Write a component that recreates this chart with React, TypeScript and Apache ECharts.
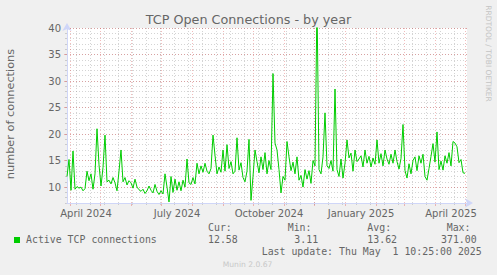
import React, { useEffect, useRef } from 'react';
import * as echarts from 'echarts';

// ---- data ----
const START_DATE = '2024-03-29';
const END_DATE = '2025-05-03';
const STEP_DAYS = 2;
const connections = [
  12, 15.2, 9.4, 16.8, 9.6, 10.1, 9.8, 10, 9.3, 9.7,
  13, 11.2, 12.5, 9.6, 12.5, 21, 14.2, 10.2, 13.7, 19.8,
  11, 11.3, 10.6, 11.8, 10.8, 9.3, 13, 17, 11, 11.8,
  10.4, 11.2, 10.8, 9.8, 11.5, 10, 9.5, 9.2, 9.6, 8.8,
  9.3, 10.2, 9.4, 8.9, 10.5, 9.2, 8.6, 9.3, 8.7, 12.5,
  10, 7.2, 12, 9, 11.5, 9.4, 11, 9.3, 11.3, 10,
  15.3, 10.8, 10.5, 11.8, 10.6, 14.5, 12.5, 14, 12.8, 14.5,
  13, 12.5, 13.5, 19.8, 16, 12.5, 13.8, 12.8, 17, 13,
  18, 13.5, 14.8, 12.5, 13, 19.3, 13.2, 14.6, 11.8, 11,
  13, 19, 7.5, 12, 17, 14.8, 12.7, 15.7, 13.3, 16.5,
  12.5, 15, 13.3, 31.4, 18.3, 17, 13.3, 8.9, 12, 11.3,
  18.6, 15.7, 13.1, 14.7, 12.5, 15.7, 11.3, 12.2, 10, 13.3,
  11.5, 13.1, 10.7, 15, 14, 45, 13.3, 12.5, 15.7, 24,
  14, 13.5, 15, 13, 28.5, 13.3, 12, 15.3, 11.7, 14.5,
  18.9, 15.5, 16.4, 13, 17, 14.8, 15.3, 15.9, 13.8, 17,
  14.5, 15.8, 13.8, 15.5, 14.3, 18.9, 14.5, 16.3, 14, 17,
  15.3, 14.3, 16.2, 14.5, 17, 14.8, 13.4, 15.4, 21.8, 13.1,
  11.7, 14.4, 12.5, 15, 15.7, 13.1, 15.9, 14.5, 16.2, 12,
  11.3, 13.5, 15.8, 18.2, 14.7, 20.4, 13.3, 14.9, 13.2, 15.9,
  14.5, 16.5, 14, 18.6, 18.3, 17.6, 14.6, 15.2, 12.7, 12.6,
];
const xLabelTexts = ['April 2024', 'July 2024', 'October 2024', 'January 2025', 'April 2025'];
const xLabelDates = ['2024-04-17', '2024-07-17', '2024-10-17', '2025-01-17', '2025-04-17'];
const MINOR_GRID_START = '2024-04-07';
const MINOR_GRID_STEP_DAYS = 14;
const yMajorTicks = [10, 15, 20, 25, 30, 35, 40];
const Y_MIN = 7;
const Y_MAX = 40;
const Y_MINOR_INTERVAL = 1;

const titleText = 'TCP Open Connections - by year';
const yAxisTitle = 'number of connections';
const sideText = 'RRDTOOL / TOBI OETIKER';
const legendName = 'Active TCP connections';
const statLabels = ['Cur:', 'Min:', 'Avg:', 'Max:'];
const statValues = ['12.58', '3.11', '13.62', '371.00'];
const lastUpdateText = 'Last update: Thu May  1 10:25:00 2025';
const versionText = 'Munin 2.0.67';

// ---- helpers ----
const DAY_MS = 86400000;
const t0 = Date.parse(START_DATE + 'T00:00:00Z');
const dayOf = (s: string) => (Date.parse(s + 'T00:00:00Z') - t0) / DAY_MS;
const totalDays = dayOf(END_DATE);

const monthStartDays: number[] = [];
{
  let y = 2024;
  let m = 3;
  while (true) {
    const d = (Date.UTC(y, m, 1) - t0) / DAY_MS;
    if (d > totalDays) break;
    if (d >= 0) monthStartDays.push(d);
    m++;
    if (m > 11) { m = 0; y++; }
  }
}
const minorDays: number[] = [];
for (let d = dayOf(MINOR_GRID_START); d <= totalDays; d += MINOR_GRID_STEP_DAYS) minorDays.push(d);
const labelDays = xLabelDates.map(dayOf);
const labelMap = new Map<number, string>();
labelDays.forEach((d, i) => labelMap.set(Math.round(d), xLabelTexts[i]));

const seriesData = connections.map((v, i) => [i * STEP_DAYS, v]);

const AXIS_COLOR = '#CFD6F8';
const FONT_COLOR = '#666666';
const MAJOR_COLOR = 'rgba(222,79,79,0.38)';
const MINOR_COLOR = 'rgba(143,143,143,0.38)';
const SANS = '"DejaVu Sans"';
const MONO = '"DejaVu Sans Mono"';

export default function App() {
  const ref = useRef<HTMLDivElement>(null);
  useEffect(() => {
    if (!ref.current) return;
    const chart = echarts.init(ref.current, undefined, { renderer: 'svg' });
    const hiddenX = { min: 0, max: totalDays, type: 'value', position: 'bottom', axisLine: { show: false }, axisLabel: { show: false } };
    const hiddenY = { min: Y_MIN, max: Y_MAX, type: 'value', position: 'left', axisLine: { show: false }, axisLabel: { show: false } };
    const monoText = (text: string, x: number, y: number) => ({
      type: 'text', x, y, silent: true,
      style: { text, fill: FONT_COLOR, font: `9.9px ${MONO}`, align: 'left', verticalAlign: 'middle' },
    });
    const statX = [208, 287.7, 367.3, 446.7];
    const statValX = [208, 294.3, 367.3, 441];
    const option: any = {
      animation: false,
      backgroundColor: '#F0F0F0',
      grid: {
        left: 67, top: 28, width: 400, height: 175,
        show: true, backgroundColor: '#FFFFFF', borderWidth: 0,
        containLabel: false, outerBoundsMode: 'none',
      },
      xAxis: [
        {
          type: 'value', min: 0, max: totalDays, position: 'bottom', z: 5,
          axisLine: {
            show: true, onZero: false,
            lineStyle: { color: AXIS_COLOR, width: 1 },
            symbol: ['none', 'arrow'], symbolSize: [7, 8], symbolOffset: [0, 6],
          },
          axisTick: { show: false },
          splitLine: { show: false },
          axisLabel: {
            customValues: labelDays,
            formatter: (v: number) => labelMap.get(Math.round(v)) ?? '',
            color: FONT_COLOR, fontFamily: SANS, fontSize: 10, margin: 5,
          },
        },
        {
          ...hiddenX, z: 2,
          axisTick: { show: true, customValues: monthStartDays, length: 3, lineStyle: { color: MAJOR_COLOR } },
          splitLine: { show: true, lineStyle: { color: MAJOR_COLOR, type: [1, 2], width: 1 } },
        },
        {
          ...hiddenX, z: 1,
          axisTick: { show: true, customValues: minorDays, length: 2, lineStyle: { color: MINOR_COLOR } },
          splitLine: { show: true, lineStyle: { color: MINOR_COLOR, type: [1, 2], width: 1 } },
        },
      ],
      yAxis: [
        {
          type: 'value', min: Y_MIN, max: Y_MAX, position: 'left', z: 5,
          axisLine: {
            show: true, onZero: false,
            lineStyle: { color: AXIS_COLOR, width: 1 },
            symbol: ['none', 'arrow'], symbolSize: [7, 8], symbolOffset: [0, 5],
          },
          axisTick: { show: true, customValues: yMajorTicks, length: 3, lineStyle: { color: MAJOR_COLOR } },
          splitLine: { show: true, lineStyle: { color: MAJOR_COLOR, type: [1, 2], width: 1 } },
          axisLabel: {
            customValues: yMajorTicks,
            color: FONT_COLOR, fontFamily: SANS, fontSize: 10, margin: 6,
          },
        },
        {
          ...hiddenY, interval: Y_MINOR_INTERVAL, z: 1,
          axisTick: { show: true, length: 2, lineStyle: { color: MINOR_COLOR } },
          splitLine: { show: true, lineStyle: { color: MINOR_COLOR, type: [1, 2], width: 1 } },
        },
      ],
      series: [
        {
          type: 'line', name: legendName, data: seriesData,
          xAxisIndex: 0, yAxisIndex: 0, symbol: 'none', showSymbol: false,
          lineStyle: { color: '#00CC00', width: 1 }, clip: true, silent: true, z: 10,
        },
      ],
      graphic: [
        { type: 'text', x: 248.5, y: 19.5, silent: true,
          style: { text: titleText, fill: FONT_COLOR, font: `12.75px ${SANS}`, align: 'center', verticalAlign: 'middle' } },
        { type: 'text', x: 10, y: 114, rotation: Math.PI / 2, silent: true,
          style: { text: yAxisTitle, fill: FONT_COLOR, font: `11.3px ${SANS}`, align: 'center', verticalAlign: 'middle' } },
        { type: 'text', x: 488.5, y: 53.5, rotation: -Math.PI / 2, silent: true,
          style: { text: sideText, fill: '#C4C4C4', font: `7.5px ${SANS}`, align: 'center', verticalAlign: 'middle' } },
        { type: 'rect', shape: { x: 14, y: 237, width: 6, height: 6 }, style: { fill: '#00CC00' }, silent: true },
        monoText(legendName, 26, 239.7),
        ...statLabels.map((s, i) => monoText(s, statX[i], 227.3)),
        ...statValues.map((s, i) => monoText(s, statValX[i], 239.7)),
        monoText(lastUpdateText, 261.7, 251.7),
        { type: 'text', x: 222.7, y: 264, silent: true,
          style: { text: versionText, fill: '#C8C8C8', font: `7.6px ${SANS}`, align: 'left', verticalAlign: 'middle' } },
      ],
    };
    chart.setOption(option);
    return () => chart.dispose();
  }, []);
  return <div ref={ref} style={{ position: 'fixed', left: 0, top: 0, width: 497, height: 275 }} />;
}
